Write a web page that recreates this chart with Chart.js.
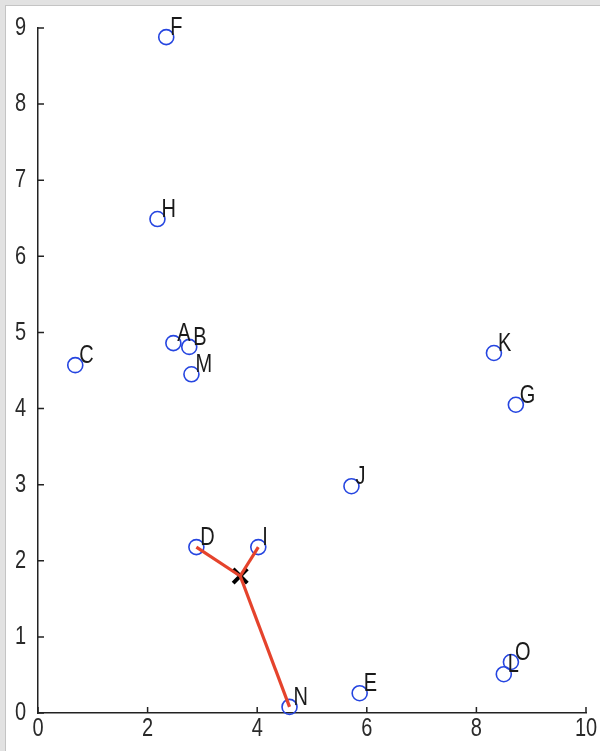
<!DOCTYPE html>
<html>
<head>
<meta charset="utf-8">
<script src="https://cdn.jsdelivr.net/npm/chart.js@4.4.0/dist/chart.umd.min.js"></script>
<style>
  body { margin: 0; background: #e2e2e2; }
  #frame { position: absolute; left: 5px; top: 5px; width: 595px; height: 746px; background: #fff; border-top: 1px solid #c4c4c4; border-left: 1px solid #c4c4c4; box-sizing: border-box; }
  #plot { position: absolute; left: 0; top: 0; }
</style>
</head>
<body>
<div id="frame"></div>
<canvas id="plot" width="600" height="751"></canvas>
<script>
var names = ["A", "B", "C", "D", "E", "F", "G", "H", "I", "J", "K", "L", "M", "N", "O"];
var xs = [2.47, 2.76, 0.68, 2.89, 5.87, 2.34, 8.72, 2.18, 4.02, 5.72, 8.32, 8.50, 2.80, 4.59, 8.63];
var ys = [4.86, 4.81, 4.57, 2.18, 0.26, 8.88, 4.05, 6.49, 2.18, 2.98, 4.73, 0.51, 4.45, 0.08, 0.67];
var center = [3.69, 1.80];
var linked = ["D", "I", "N"];

var pts = names.map(function (n, i) { return { x: xs[i], y: ys[i] }; });

var lineSets = linked.map(function (n) {
  var i = names.indexOf(n);
  return {
    type: "line",
    data: [{ x: center[0], y: center[1] }, { x: xs[i], y: ys[i] }],
    borderColor: "#e5432c",
    borderWidth: 3.2,
    pointRadius: 0,
    showLine: true,
    fill: false,
    clip: false
  };
});

var FONT = "20px 'Liberation Sans', Arial, sans-serif";
var STRETCH = 1.3; // the picture's text is taller than it is wide

function tallText(ctx, txt, x, y, align) {
  ctx.save();
  ctx.translate(x, y);
  ctx.scale(1, STRETCH);
  ctx.textAlign = align;
  ctx.fillText(txt, 0, 0);
  ctx.restore();
}

// point names, tick labels and inward ticks like matlab
var extras = {
  id: "extras",
  afterDatasetsDraw: function (chart) {
    var ctx = chart.ctx;
    var sx = chart.scales.x, sy = chart.scales.y;
    ctx.save();
    ctx.font = FONT;
    ctx.textBaseline = "middle";
    ctx.fillStyle = "#1a1a1a";
    names.forEach(function (n, i) {
      tallText(ctx, n, sx.getPixelForValue(xs[i]) + 4, sy.getPixelForValue(ys[i]) - 9, "left");
    });
    ctx.fillStyle = "#2a2a2a";
    sx.ticks.forEach(function (t) {
      tallText(ctx, String(t.value), sx.getPixelForValue(t.value), sy.bottom + 16, "center");
    });
    sy.ticks.forEach(function (t) {
      tallText(ctx, String(t.value), sx.left - 12, sy.getPixelForValue(t.value), "right");
    });
    ctx.strokeStyle = "#222";
    ctx.lineWidth = 1.5;
    ctx.beginPath();
    sx.ticks.forEach(function (t) {
      var px = sx.getPixelForValue(t.value);
      ctx.moveTo(px, sy.bottom);
      ctx.lineTo(px, sy.bottom - 6);
    });
    sy.ticks.forEach(function (t) {
      var py = sy.getPixelForValue(t.value);
      ctx.moveTo(sx.left, py);
      ctx.lineTo(sx.left + 6, py);
    });
    ctx.stroke();
    ctx.restore();
  }
};

new Chart("plot", {
  type: "scatter",
  data: {
    datasets: lineSets.concat([
      {
        data: pts,
        pointStyle: "circle",
        pointRadius: 7.5,
        pointBorderWidth: 1.6,
        pointBorderColor: "#2545e0",
        pointBackgroundColor: "rgba(0,0,0,0)",
        clip: false
      },
      {
        data: [{ x: center[0], y: center[1] }],
        pointStyle: "crossRot",
        pointRadius: 10,
        pointBorderWidth: 4,
        pointBorderColor: "#000",
        clip: false
      }
    ])
  },
  options: {
    responsive: false,
    animation: false,
    layout: { padding: { top: 28, right: 13, left: 0, bottom: 0 } },
    plugins: { legend: { display: false }, tooltip: { enabled: false } },
    scales: {
      x: {
        type: "linear",
        min: 0, max: 10,
        afterFit: function (s) { s.height = 38; },
        grid: { display: false, drawTicks: false },
        border: { display: true, color: "#222", width: 1.5 },
        ticks: { stepSize: 2, color: "rgba(0,0,0,0)", font: { size: 18 } }
      },
      y: {
        type: "linear",
        min: 0, max: 9,
        afterFit: function (s) { s.width = 38; },
        grid: { display: false, drawTicks: false },
        border: { display: true, color: "#222", width: 1.5 },
        ticks: { stepSize: 1, color: "rgba(0,0,0,0)", font: { size: 18 } }
      }
    }
  },
  plugins: [extras]
});
</script>
</body>
</html>
